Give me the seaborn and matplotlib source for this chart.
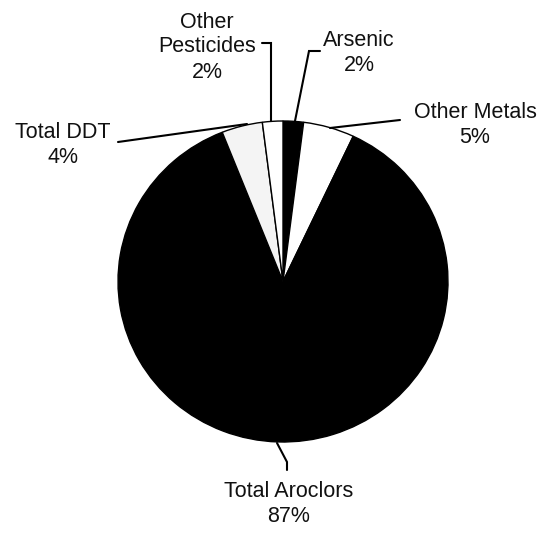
import matplotlib
matplotlib.use("Agg")
import matplotlib.pyplot as plt
import seaborn as sns

# === Data ===
categories = ["Arsenic", "Other Metals", "Total Aroclors", "Total DDT", "Other Pesticides"]
shares = [2, 5, 87, 4, 2]
labels = ["Arsenic\n2%", "Other Metals\n5%", "Total Aroclors\n87%", "Total DDT\n4%", "Other\nPesticides\n2%"]
slice_colors = ["black", "white", "black", "#f4f4f4", "white"]

sns.set_theme(style="white")
plt.rcParams["font.family"] = ["Liberation Sans", "DejaVu Sans"]

W, H = 542, 533
CX, CY, RX, RY = 283, 281.5, 165, 160.5


def px(x, y):
    # pixel position -> data units of the pie
    return (x - CX) / RX, (CY - y) / RY


fig = plt.figure(figsize=(W / 100, H / 100), dpi=100)
ax = fig.add_axes([0, 0, 1, 1])
ax.pie(shares, colors=slice_colors, startangle=90, counterclock=False,
       wedgeprops=dict(edgecolor="black", linewidth=1))
ax.set_aspect("auto")
ax.set_xlim(px(0, 0)[0], px(W, 0)[0])
ax.set_ylim(px(0, H)[1], px(0, 0)[1])
ax.axis("off")

# === Labels and leader lines ===
label_pos = {
    "Arsenic": (359, 53),
    "Other Metals": (475, 125),
    "Total Aroclors": (289, 504),
    "Total DDT": (63, 145),
    "Other Pesticides": (207, 47),
}
leaders = {
    "Arsenic": [(295, 121), (309, 51), (320, 51)],
    "Other Metals": [(330, 128), (400, 120)],
    "Total Aroclors": [(277, 443), (287, 462), (287, 470)],
    "Total DDT": [(118, 142), (247, 124)],
    "Other Pesticides": [(271, 121), (271, 43), (262, 43)],
}

for cat, lab in zip(categories, labels):
    x, y = px(*label_pos[cat])
    ax.text(x, y, lab, ha="center", va="center", fontsize=15.5,
            linespacing=1.25, color="#111111")
    pts = [px(a, b) for a, b in leaders[cat]]
    ax.plot([p[0] for p in pts], [p[1] for p in pts], color="black", lw=1.5,
            solid_joinstyle="miter")

plt.savefig("out.png", dpi=100)
